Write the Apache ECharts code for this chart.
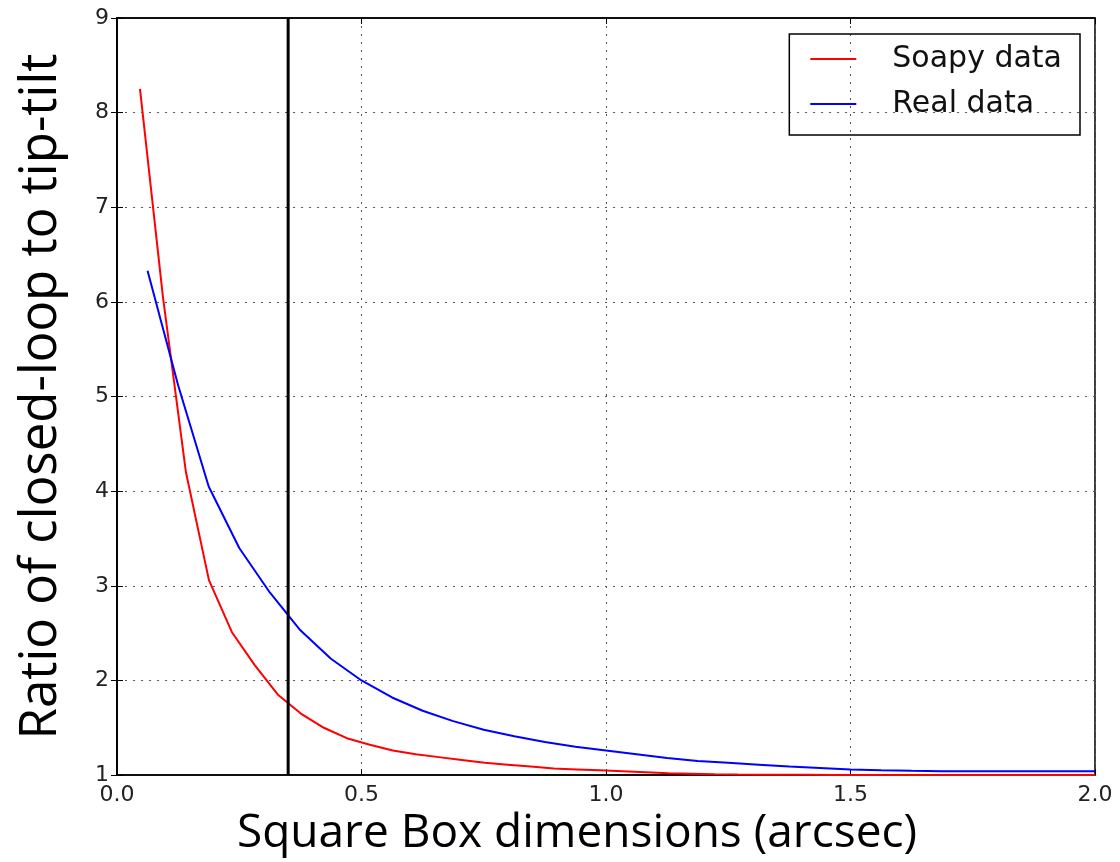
<!DOCTYPE html>
<html>
<head>
<meta charset="utf-8">
<script src="https://cdn.jsdelivr.net/npm/echarts@6/dist/echarts.min.js"></script>
<style>
html,body{margin:0;padding:0;background:#fff;}
#chart{width:1120px;height:862px;}
</style>
</head>
<body>
<div id="chart"></div>
<script>
// ---- data ----
const soapyX = [0.047,0.094,0.141,0.188,0.235,0.282,0.329,0.376,0.423,0.470,0.517,0.564,0.611,0.658,0.705,0.752,0.799,0.846,0.893,0.940,0.987,1.034,1.081,1.128,1.175,1.222,1.269,1.316,1.363,1.410,1.457,1.504,1.551,1.598,1.645,1.692,1.739,1.786,1.833,1.880,1.927,1.974,2.0];
const soapyY = [8.25,6.05,4.20,3.06,2.51,2.16,1.85,1.65,1.50,1.39,1.32,1.26,1.22,1.19,1.16,1.13,1.11,1.09,1.07,1.06,1.05,1.04,1.03,1.02,1.015,1.01,1.007,1.005,1.004,1.003,1.002,1.002,1.001,1.001,1.001,1.0,1.0,1.0,1.0,1.0,1.0,1.0,1.0];
const realX = [0.0625,0.125,0.1875,0.25,0.3125,0.375,0.4375,0.5,0.5625,0.625,0.6875,0.75,0.8125,0.875,0.9375,1.0,1.0625,1.125,1.1875,1.25,1.3125,1.375,1.4375,1.5,1.5625,1.625,1.6875,1.75,1.8125,1.875,1.9375,2.0];
const realY = [6.33,5.12,4.05,3.40,2.93,2.53,2.23,2.00,1.82,1.68,1.57,1.48,1.41,1.35,1.30,1.26,1.22,1.18,1.15,1.13,1.11,1.09,1.075,1.06,1.05,1.045,1.042,1.04,1.04,1.04,1.04,1.04];
const vlineX = 0.35;
const xTicks = [0.0,0.5,1.0,1.5,2.0];
const yTicks = [1,2,3,4,5,6,7,8,9];
const seriesNames = ['Soapy data','Real data'];
const xTitle = 'Square Box dimensions (arcsec)';
const yTitle = 'Ratio of closed-loop to tip-tilt';

const zip = (xs, ys) => xs.map((x,i)=>[x, ys[i]]);

const tickFont = {fontFamily:'DejaVu Sans, sans-serif', fontSize:22, color:'#222'};
const gridLine = {show:true, lineStyle:{color:'#555', type:[2,6], width:1}};
const axisLineStyle = {show:true, lineStyle:{color:'#000', width:1.5}};
const tickStyle = {show:true, inside:true, length:6, lineStyle:{color:'#000'}};

const chart = echarts.init(document.getElementById('chart'));
chart.setOption({
  animation:false,
  backgroundColor:'#fff',
  grid:{left:117, right:25, top:18, bottom:84, show:true, borderColor:'#000', borderWidth:1.5, backgroundColor:'transparent'},
  legend:{
    orient:'vertical', right:40, top:34,
    data:seriesNames,
    icon:'rect',
    itemWidth:46, itemHeight:2, itemGap:15,
    borderColor:'#000', borderWidth:1.5, borderRadius:0,
    padding:[10,18,16,21],
    textStyle:{fontFamily:'DejaVu Sans, sans-serif', fontSize:30, lineHeight:30, color:'#111', padding:[0,0,0,31]}
  },
  xAxis:[{
    type:'value', min:0, max:2, interval:0.5,
    axisLine:axisLineStyle, axisTick:tickStyle,
    axisLabel:{...tickFont, margin:9, formatter:v=>v.toFixed(1)},
    splitLine:gridLine,
    name:xTitle, nameLocation:'middle', nameGap:34,
    nameTextStyle:{fontFamily:'Open Sans, sans-serif', fontSize:46, color:'#000', padding:[0,58,0,0]}
  },{
    type:'value', position:'top', min:0, max:2, interval:0.5,
    axisLine:axisLineStyle, axisTick:tickStyle,
    axisLabel:{show:false}, splitLine:{show:false}
  }],
  yAxis:[{
    type:'value', min:1, max:9, interval:1,
    axisLine:axisLineStyle, axisTick:tickStyle,
    axisLabel:{...tickFont, margin:8},
    splitLine:gridLine,
    name:yTitle, nameLocation:'middle', nameGap:50,
    nameTextStyle:{fontFamily:'Open Sans, sans-serif', fontSize:51, color:'#000'}
  },{
    type:'value', position:'right', min:1, max:9, interval:1,
    axisLine:axisLineStyle, axisTick:tickStyle,
    axisLabel:{show:false}, splitLine:{show:false}
  }],
  series:[
    {name:seriesNames[0], type:'line', data:zip(soapyX, soapyY), showSymbol:false, symbol:'none',
     lineStyle:{color:'#ff0000', width:2}, itemStyle:{color:'#ff0000'}, z:3},
    {name:seriesNames[1], type:'line', data:zip(realX, realY), showSymbol:false, symbol:'none',
     lineStyle:{color:'#0000ff', width:2}, itemStyle:{color:'#0000ff'}, z:4},
    {name:'vline', type:'line', data:[[vlineX,1],[vlineX,9]], showSymbol:false, symbol:'none',
     lineStyle:{color:'#000', width:3}, z:5}
  ]
});
</script>
</body>
</html>
